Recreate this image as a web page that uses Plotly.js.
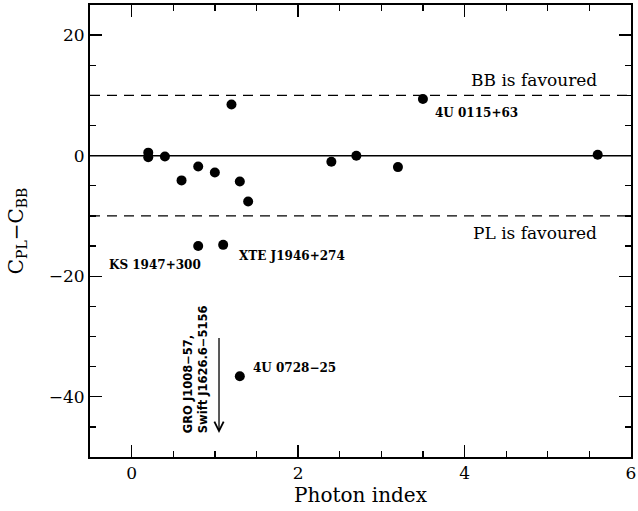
<!DOCTYPE html>
<html>
<head>
<meta charset="utf-8">
<script src="https://cdn.plot.ly/plotly-3.0.1.min.js"></script>
<style>html,body{margin:0;padding:0;background:#fff;}#chart{width:638px;height:511px;}</style>
</head>
<body>
<div id="chart"></div>
<script>
// Photon index vs C_PL - C_BB
const photonIndex = [0.2, 0.2, 0.4, 0.6, 0.8, 1.0, 1.2, 1.3, 1.4, 2.4, 2.7, 3.2, 3.5, 5.6, 0.8, 1.1, 1.3];
const deltaC      = [0.5, -0.25, -0.15, -4.1, -1.8, -2.8, 8.5, -4.3, -7.6, -1.0, 0.0, -1.9, 9.4, 0.15, -15.0, -14.8, -36.6];

const refLevels = [0, 10, -10];
const refDash   = ['solid', '10px,7px', '10px,7px'];

// labels: [text, x, y]
const labelText = ['4U 0115+63', 'KS 1947+300', 'XTE J1946+274', '4U 0728\u221225'];
const labelX    = [3.62, -0.30, 1.27, 1.43];
const labelY    = [7.1, -18.2, -16.7, -35.3];

const regionText = ['BB is favoured', 'PL is favoured'];
const regionX    = [5.62, 5.61];
const regionY    = [12.5, -12.8];

// upper-limit arrow
const arrowX = 1.05, arrowFrom = -30, arrowTo = -46;
const limitText = 'GRO J1008\u221257,<br>Swift J1626.6\u22125156';
const limitX = 0.76, limitY = -46.4;

const serif = 'DejaVu Serif';

const trace = {
  x: photonIndex, y: deltaC, mode: 'markers', type: 'scatter',
  marker: {color: '#000', size: 10},
  hoverinfo: 'skip', showlegend: false
};

const shapes = refLevels.map((v, i) => ({
  type: 'line', xref: 'paper', yref: 'y', x0: 0, x1: 1, y0: v, y1: v,
  line: {color: '#000', width: i === 0 ? 1.5 : 1.3, dash: refDash[i]}
}));

const annotations = [];
labelText.forEach((t, i) => annotations.push({
  x: labelX[i], y: labelY[i], text: t, showarrow: false,
  xanchor: 'left', yanchor: 'middle',
  font: {family: serif, size: 12, color: '#000', weight: 'bold'}
}));
regionText.forEach((t, i) => annotations.push({
  x: regionX[i], y: regionY[i], text: t, showarrow: false,
  xanchor: 'right', yanchor: 'middle',
  font: {family: serif, size: 17, color: '#000'}
}));
annotations.push({
  x: arrowX, y: arrowTo, ax: arrowX, ay: arrowFrom, axref: 'x', ayref: 'y',
  xref: 'x', yref: 'y', text: '', showarrow: true,
  arrowhead: 5, arrowsize: 1.4, arrowwidth: 1.3, arrowcolor: '#000', standoff: 0
});
annotations.push({
  x: limitX, y: limitY, text: limitText, showarrow: false, textangle: -90,
  xanchor: 'center', yanchor: 'bottom', align: 'left',
  font: {family: 'DejaVu Sans', size: 11.5, color: '#000', weight: 'bold'}
});

const axisCommon = {
  showgrid: false, zeroline: false, showline: true, linecolor: '#000', linewidth: 2,
  mirror: 'ticks', ticks: 'inside', ticklen: 12, tickwidth: 1.3, tickcolor: '#000',
  tickfont: {family: serif, size: 17, color: '#000'}
};

const layout = {
  width: 638, height: 511,
  margin: {l: 90, r: 7, t: 5, b: 54},
  paper_bgcolor: '#fff', plot_bgcolor: '#fff',
  showlegend: false,
  xaxis: Object.assign({}, axisCommon, {
    range: [-0.5, 6], tick0: 0, dtick: 2,
    minor: {dtick: 0.5, ticks: 'inside', ticklen: 6, tickwidth: 1.3, tickcolor: '#000'},
    title: {text: 'Photon index', font: {family: serif, size: 20, color: '#000'}, standoff: 5}
  }),
  yaxis: Object.assign({}, axisCommon, {
    range: [-50, 25], tick0: 0, dtick: 20,
    minor: {dtick: 5, ticks: 'inside', ticklen: 6, tickwidth: 1.3, tickcolor: '#000'},
    title: {text: 'C<sub>PL</sub>\u2212C<sub>BB</sub>', font: {family: serif, size: 20, color: '#000'}, standoff: 20}
  }),
  shapes: shapes,
  annotations: annotations
};

Plotly.newPlot('chart', [trace], layout, {staticPlot: true, displayModeBar: false});
</script>
</body>
</html>
